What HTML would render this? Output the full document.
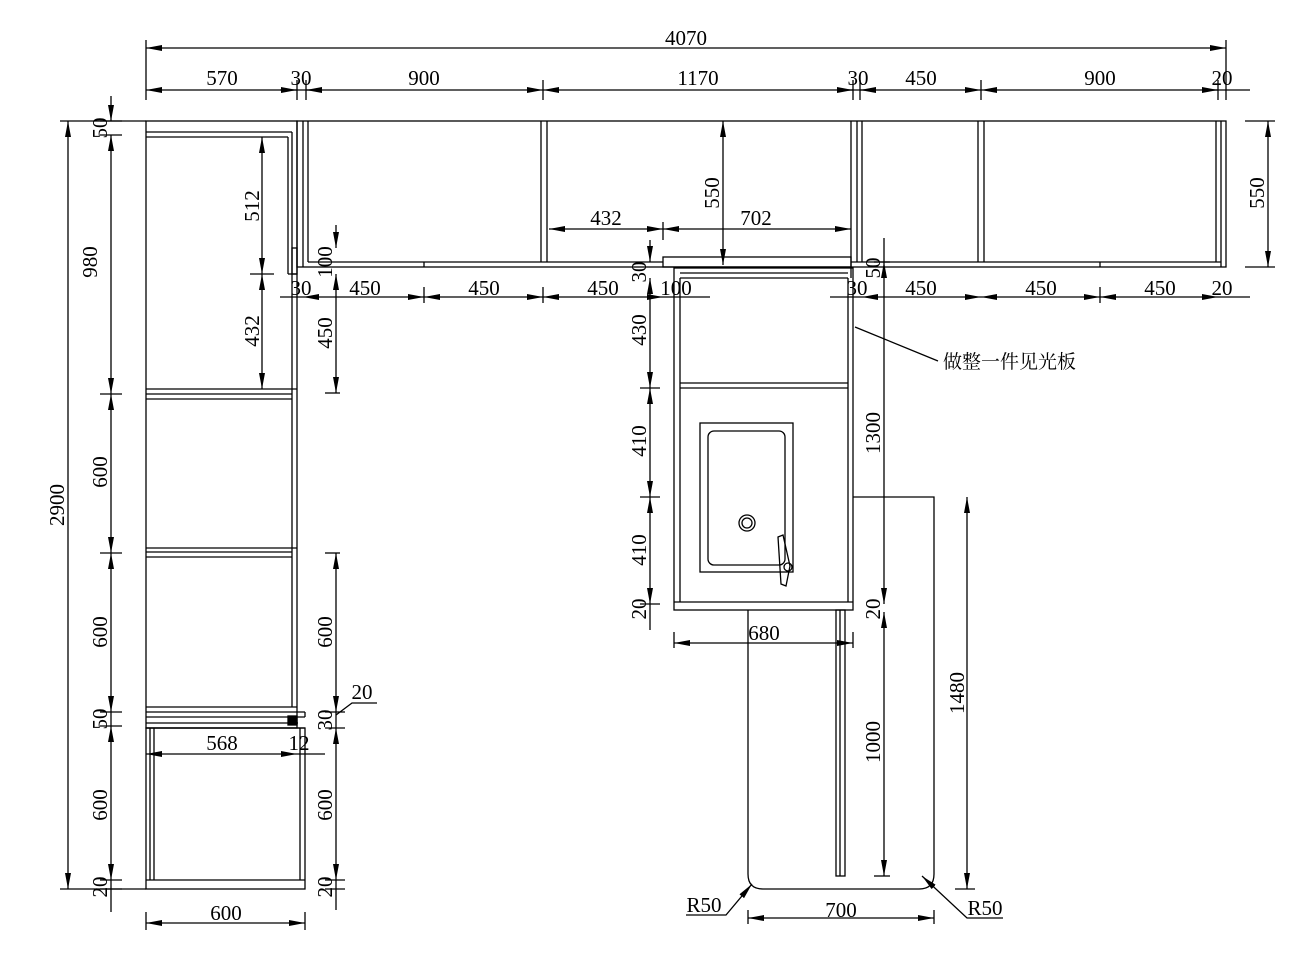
<!DOCTYPE html>
<html><head><meta charset="utf-8"><style>
html,body{margin:0;padding:0;background:#fff}
svg{display:block}
text{font-family:"Liberation Serif","Noto Serif CJK SC",serif;font-size:21px;fill:#000}
</style></head><body>
<svg width="1315" height="953" viewBox="0 0 1315 953" xmlns="http://www.w3.org/2000/svg">
<defs>
<marker id="a" viewBox="0 0 16 6" refX="16" refY="3" markerWidth="16" markerHeight="6" markerUnits="userSpaceOnUse" orient="auto-start-reverse"><path d="M0,0 L16,3 L0,6 Z" fill="#000"/></marker>
</defs>
<g stroke="#000" stroke-width="1.3" fill="none">
<!-- top overall dims -->
<line x1="146" y1="48" x2="1226" y2="48" marker-start="url(#a)" marker-end="url(#a)"/>
<line x1="146" y1="40" x2="146" y2="100"/><line x1="1226" y1="40" x2="1226" y2="100"/>
<g marker-start="url(#a)" marker-end="url(#a)">
<line x1="146" y1="90" x2="297" y2="90"/>
<line x1="306" y1="90" x2="543" y2="90"/>
<line x1="543" y1="90" x2="853" y2="90"/>
<line x1="860" y1="90" x2="981" y2="90"/>
<line x1="981" y1="90" x2="1218" y2="90"/>
</g>
<line x1="280" y1="90" x2="320" y2="90"/><line x1="838" y1="90" x2="875" y2="90"/><line x1="1205" y1="90" x2="1250" y2="90"/>
<line x1="297" y1="80" x2="297" y2="100"/><line x1="306" y1="80" x2="306" y2="100"/><line x1="543" y1="80" x2="543" y2="100"/>
<line x1="853" y1="80" x2="853" y2="100"/><line x1="860" y1="80" x2="860" y2="100"/><line x1="981" y1="80" x2="981" y2="100"/><line x1="1218" y1="80" x2="1218" y2="100"/>

<!-- upper wall cabinets -->
<rect x="297" y="121" width="929" height="146"/>
<line x1="303" y1="121" x2="303" y2="267"/><line x1="308" y1="121" x2="308" y2="262"/>
<line x1="541" y1="121" x2="541" y2="262"/><line x1="547" y1="121" x2="547" y2="262"/>
<line x1="851" y1="121" x2="851" y2="278"/><line x1="857" y1="121" x2="857" y2="262"/><line x1="862" y1="121" x2="862" y2="262"/>
<line x1="978" y1="121" x2="978" y2="262"/><line x1="984" y1="121" x2="984" y2="262"/>
<line x1="1216" y1="121" x2="1216" y2="262"/><line x1="1221" y1="121" x2="1221" y2="267"/>
<line x1="308" y1="262" x2="663" y2="262"/><line x1="851" y1="262" x2="1221" y2="262"/>
<line x1="424" y1="262" x2="424" y2="267"/><line x1="1100" y1="262" x2="1100" y2="267"/>
<rect x="663" y="257" width="188" height="10"/>
<!-- left tall cabinet -->
<rect x="146" y="121" width="151" height="607"/>
<line x1="146" y1="132" x2="292" y2="132"/><line x1="146" y1="137" x2="288" y2="137"/>
<line x1="292" y1="132" x2="292" y2="274"/><line x1="288" y1="137" x2="288" y2="274"/><line x1="288" y1="274" x2="297" y2="274"/>
<line x1="292" y1="274" x2="292" y2="707"/>
<rect x="292" y="248" width="5" height="26"/>
<line x1="146" y1="389" x2="297" y2="389"/><line x1="146" y1="394" x2="292" y2="394"/><line x1="146" y1="399" x2="292" y2="399"/>
<line x1="146" y1="548" x2="297" y2="548"/><line x1="146" y1="552" x2="292" y2="552"/><line x1="146" y1="557" x2="292" y2="557"/>
<line x1="146" y1="707" x2="297" y2="707"/><line x1="146" y1="712" x2="305" y2="712"/><line x1="146" y1="717" x2="305" y2="717"/>
<line x1="305" y1="712" x2="305" y2="717"/>
<line x1="146" y1="723" x2="298" y2="723"/><line x1="146" y1="728" x2="305" y2="728"/>
<rect x="288" y="716" width="9" height="9" fill="#000"/>
<!-- base cabinet -->
<rect x="146" y="728" width="159" height="161"/>
<line x1="150" y1="728" x2="150" y2="880"/><line x1="154" y1="728" x2="154" y2="880"/>
<line x1="300" y1="728" x2="300" y2="880"/>
<line x1="146" y1="880" x2="305" y2="880"/>

<!-- left dims -->
<line x1="68" y1="121" x2="68" y2="889" marker-start="url(#a)" marker-end="url(#a)"/>
<line x1="60" y1="121" x2="146" y2="121"/><line x1="60" y1="889" x2="146" y2="889"/>
<g marker-start="url(#a)" marker-end="url(#a)">
<line x1="111" y1="135" x2="111" y2="394"/>
<line x1="111" y1="394" x2="111" y2="553"/>
<line x1="111" y1="553" x2="111" y2="712"/>
<line x1="111" y1="726" x2="111" y2="880"/>
<line x1="262" y1="137" x2="262" y2="274"/>
<line x1="262" y1="274" x2="262" y2="389"/>
<line x1="336" y1="274" x2="336" y2="393"/>
<line x1="336" y1="553" x2="336" y2="712"/>
<line x1="336" y1="728" x2="336" y2="880"/>
</g>
<line x1="111" y1="96" x2="111" y2="121" marker-end="url(#a)"/><line x1="111" y1="880" x2="111" y2="912"/>
<line x1="111" y1="712" x2="111" y2="726"/>
<line x1="100" y1="121" x2="122" y2="121"/><line x1="100" y1="135" x2="122" y2="135"/><line x1="100" y1="394" x2="122" y2="394"/><line x1="100" y1="553" x2="122" y2="553"/>
<line x1="100" y1="712" x2="122" y2="712"/><line x1="100" y1="726" x2="122" y2="726"/><line x1="100" y1="880" x2="122" y2="880"/><line x1="100" y1="889" x2="122" y2="889"/>
<line x1="250" y1="274" x2="274" y2="274"/>
<line x1="336" y1="225" x2="336" y2="248" marker-end="url(#a)"/>
<line x1="325" y1="393" x2="340" y2="393"/><line x1="325" y1="553" x2="340" y2="553"/>
<line x1="336" y1="712" x2="336" y2="728"/><line x1="336" y1="880" x2="336" y2="910"/>
<line x1="325" y1="712" x2="345" y2="712"/><line x1="325" y1="728" x2="345" y2="728"/><line x1="325" y1="880" x2="345" y2="880"/><line x1="325" y1="889" x2="345" y2="889"/>
<polyline points="336,715 352,703 377,703"/>
<!-- 568 / 12 -->
<line x1="146" y1="754" x2="297" y2="754" marker-start="url(#a)" marker-end="url(#a)"/>
<line x1="297" y1="754" x2="325" y2="754"/>
<line x1="305" y1="754" x2="305" y2="754"/>
<!-- 600 bottom -->
<line x1="146" y1="923" x2="305" y2="923" marker-start="url(#a)" marker-end="url(#a)"/>
<line x1="146" y1="912" x2="146" y2="930"/><line x1="305" y1="912" x2="305" y2="930"/>

<!-- row y=297 dims -->
<g marker-start="url(#a)" marker-end="url(#a)">
<line x1="303" y1="297" x2="424" y2="297"/>
<line x1="424" y1="297" x2="543" y2="297"/>
<line x1="543" y1="297" x2="663" y2="297"/>
<line x1="862" y1="297" x2="981" y2="297"/>
<line x1="981" y1="297" x2="1100" y2="297"/>
<line x1="1100" y1="297" x2="1218" y2="297"/>
</g>
<line x1="280" y1="297" x2="303" y2="297"/><line x1="663" y1="297" x2="710" y2="297"/>
<line x1="830" y1="297" x2="862" y2="297"/><line x1="1218" y1="297" x2="1250" y2="297"/>
<line x1="424" y1="287" x2="424" y2="303"/><line x1="543" y1="287" x2="543" y2="303"/><line x1="1100" y1="287" x2="1100" y2="303"/>

<!-- 432/702/550 -->
<line x1="549" y1="229" x2="663" y2="229" marker-start="url(#a)" marker-end="url(#a)"/>
<line x1="663" y1="229" x2="851" y2="229" marker-start="url(#a)" marker-end="url(#a)"/>
<line x1="663" y1="222" x2="663" y2="240"/>
<line x1="723" y1="121" x2="723" y2="265" marker-start="url(#a)" marker-end="url(#a)"/>
<line x1="1268" y1="121" x2="1268" y2="267" marker-start="url(#a)" marker-end="url(#a)"/>
<line x1="1245" y1="121" x2="1275" y2="121"/><line x1="1245" y1="267" x2="1275" y2="267"/>

<!-- sink cabinet -->
<rect x="674" y="268" width="179" height="342"/>
<line x1="680" y1="278" x2="680" y2="602"/><line x1="848" y1="278" x2="848" y2="602"/>
<line x1="680" y1="273" x2="848" y2="273"/><line x1="680" y1="278" x2="848" y2="278"/>
<line x1="680" y1="383" x2="848" y2="383"/><line x1="680" y1="388" x2="848" y2="388"/>
<line x1="674" y1="602" x2="853" y2="602"/>
<rect x="700" y="423" width="93" height="149"/>
<rect x="708" y="431" width="77" height="134" rx="6"/>
<circle cx="747" cy="523" r="8"/><circle cx="747" cy="523" r="5"/>
<path d="M778,537 L783,535 L790,566 L786,586 L781,584 Z"/>
<circle cx="788" cy="567" r="4"/>
<!-- sink dims -->
<g marker-start="url(#a)" marker-end="url(#a)">
<line x1="650" y1="278" x2="650" y2="388"/>
<line x1="650" y1="388" x2="650" y2="497"/>
<line x1="650" y1="497" x2="650" y2="604"/>
<line x1="884" y1="262" x2="884" y2="604"/>
<line x1="884" y1="612" x2="884" y2="876"/>
<line x1="967" y1="497" x2="967" y2="889"/>
<line x1="674" y1="643" x2="853" y2="643"/>
<line x1="748" y1="918" x2="934" y2="918"/>
</g>
<line x1="650" y1="240" x2="650" y2="262" marker-end="url(#a)"/><line x1="650" y1="604" x2="650" y2="630"/>
<line x1="640" y1="388" x2="660" y2="388"/><line x1="640" y1="497" x2="660" y2="497"/><line x1="640" y1="604" x2="660" y2="604"/>
<line x1="884" y1="238" x2="884" y2="262"/>
<line x1="874" y1="262" x2="890" y2="262"/><line x1="874" y1="876" x2="890" y2="876"/>
<line x1="955" y1="889" x2="975" y2="889"/>
<line x1="674" y1="632" x2="674" y2="648"/><line x1="853" y1="632" x2="853" y2="648"/>
<line x1="748" y1="910" x2="748" y2="924"/><line x1="934" y1="910" x2="934" y2="924"/>
<!-- peninsula -->
<path d="M748,610 L748,874 Q748,889 763,889 L919,889 Q934,889 934,874 L934,497 L853,497"/>
<rect x="836" y="610" width="9" height="266"/>
<line x1="840" y1="610" x2="840" y2="876"/>
<!-- R50 leaders -->
<polyline points="686,915 726,915 752,884" marker-end="url(#a)"/>
<polyline points="1003,918 967,918 922,876" marker-end="url(#a)"/>
<line x1="855" y1="327" x2="938" y2="361"/>
</g>
<g>
<text x="686" y="45" text-anchor="middle">4070</text>
<text x="222" y="85" text-anchor="middle">570</text>
<text x="301" y="85" text-anchor="middle">30</text>
<text x="424" y="85" text-anchor="middle">900</text>
<text x="698" y="85" text-anchor="middle">1170</text>
<text x="858" y="85" text-anchor="middle">30</text>
<text x="921" y="85" text-anchor="middle">450</text>
<text x="1100" y="85" text-anchor="middle">900</text>
<text x="1222" y="85" text-anchor="middle">20</text>
<text x="301" y="295" text-anchor="middle">30</text>
<text x="365" y="295" text-anchor="middle">450</text>
<text x="484" y="295" text-anchor="middle">450</text>
<text x="603" y="295" text-anchor="middle">450</text>
<text x="676" y="295" text-anchor="middle">100</text>
<text x="857" y="295" text-anchor="middle">30</text>
<text x="921" y="295" text-anchor="middle">450</text>
<text x="1041" y="295" text-anchor="middle">450</text>
<text x="1160" y="295" text-anchor="middle">450</text>
<text x="1222" y="295" text-anchor="middle">20</text>
<text x="606" y="225" text-anchor="middle">432</text>
<text x="756" y="225" text-anchor="middle">702</text>
<text x="222" y="750" text-anchor="middle">568</text>
<text x="299" y="750" text-anchor="middle">12</text>
<text x="226" y="920" text-anchor="middle">600</text>
<text x="362" y="699" text-anchor="middle">20</text>
<text x="764" y="640" text-anchor="middle">680</text>
<text x="841" y="917" text-anchor="middle">700</text>
<text x="704" y="912" text-anchor="middle">R50</text>
<text x="985" y="915" text-anchor="middle">R50</text>
<text x="943" y="368" style="font-family:'Noto Serif CJK SC','Noto Sans CJK SC',serif;font-size:19px">做整一件见光板</text>
<g text-anchor="middle">
<text transform="translate(64,505) rotate(-90)">2900</text>
<text transform="translate(107,128) rotate(-90)">50</text>
<text transform="translate(97,262) rotate(-90)">980</text>
<text transform="translate(107,472) rotate(-90)">600</text>
<text transform="translate(107,632) rotate(-90)">600</text>
<text transform="translate(107,719) rotate(-90)">50</text>
<text transform="translate(107,805) rotate(-90)">600</text>
<text transform="translate(107,887) rotate(-90)">20</text>
<text transform="translate(259,206) rotate(-90)">512</text>
<text transform="translate(259,331) rotate(-90)">432</text>
<text transform="translate(332,262) rotate(-90)">100</text>
<text transform="translate(332,333) rotate(-90)">450</text>
<text transform="translate(332,632) rotate(-90)">600</text>
<text transform="translate(332,720) rotate(-90)">30</text>
<text transform="translate(332,805) rotate(-90)">600</text>
<text transform="translate(332,887) rotate(-90)">20</text>
<text transform="translate(719,193) rotate(-90)">550</text>
<text transform="translate(1264,193) rotate(-90)">550</text>
<text transform="translate(646,272) rotate(-90)">30</text>
<text transform="translate(646,330) rotate(-90)">430</text>
<text transform="translate(646,441) rotate(-90)">410</text>
<text transform="translate(646,550) rotate(-90)">410</text>
<text transform="translate(646,609) rotate(-90)">20</text>
<text transform="translate(880,268) rotate(-90)">50</text>
<text transform="translate(880,433) rotate(-90)">1300</text>
<text transform="translate(880,609) rotate(-90)">20</text>
<text transform="translate(880,742) rotate(-90)">1000</text>
<text transform="translate(964,693) rotate(-90)">1480</text>
</g>
</g>
</svg>
</body></html>
